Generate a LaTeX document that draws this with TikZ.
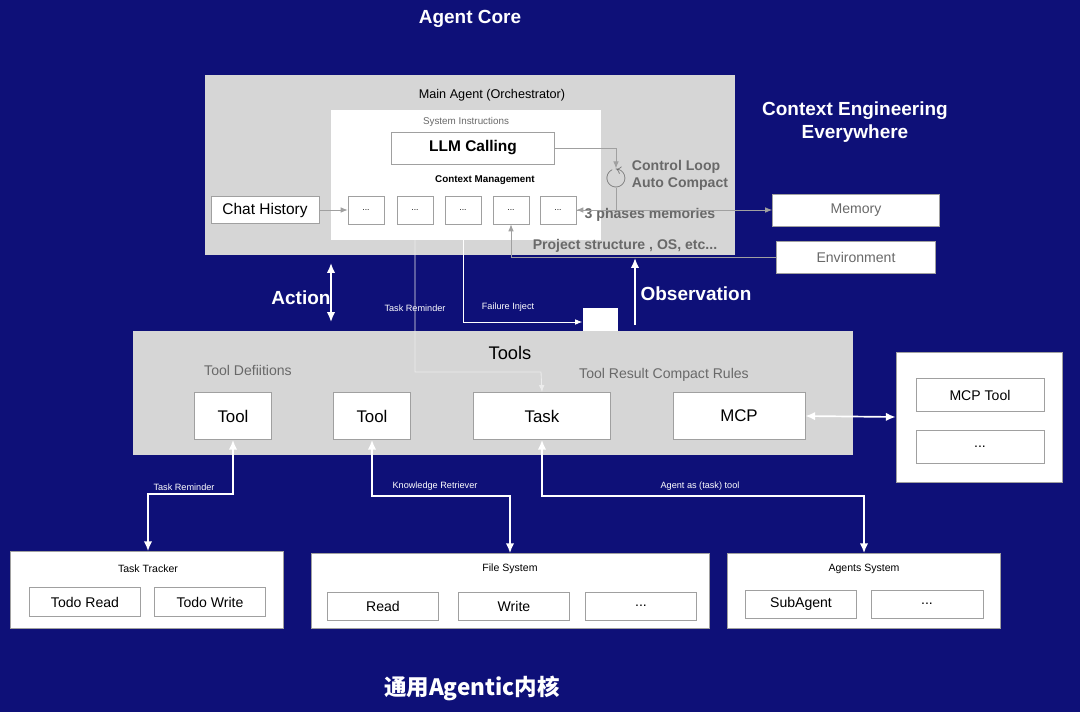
\documentclass[tikz,border=0pt]{standalone}
\usepackage{amssymb}
\usepackage{fontspec}
\setmainfont{Liberation Sans}
\newfontfamily\cjk{Noto Sans CJK SC}
\usetikzlibrary{arrows.meta, positioning}
\definecolor{bgblue}{RGB}{14,16,120}
\definecolor{panelgray}{RGB}{214,214,214}
\definecolor{textgray}{RGB}{105,105,105}
\definecolor{edgegray}{RGB}{160,160,160}
\def\pxu{0.025cm}
\tikzset{
  panel/.style={fill=panelgray, draw=none, inner sep=0pt},
  card/.style={fill=white, draw=edgegray, line width=0.5pt, inner sep=0pt},
  box/.style={card, font=\fontsize{11}{12}\selectfont},
  title/.style={text=white, font=\bfseries\fontsize{13.5}{16}\selectfont, align=center},
  hint/.style={text=textgray, font=\bfseries\fontsize{10}{12}\selectfont},
  wlabel/.style={text=white, font=\fontsize{6.5}{8}\selectfont},
  wire/.style={draw=edgegray, line width=0.6pt, -{Latex[length=5pt,width=4pt]}},
  link/.style={draw=white, line width=1.2pt, {Latex[length=7pt,width=6pt]}-{Latex[length=7pt,width=6pt]}},
}
\begin{document}
\begin{tikzpicture}[x=\pxu, y=-\pxu]
\fill[bgblue] (0,0) rectangle (1080,712);
\useasboundingbox (0,0) rectangle (1080,712);

% agent core
\node[title] (core) at (470,19) {Agent Core};
\node[title] (ctx) at (855,122) {Context Engineering\\Everywhere};
\node[panel, minimum width=530*\pxu, minimum height=180*\pxu] (main) at (470,165) {};
\node[font=\fontsize{9}{10}\selectfont] (mainlbl) at (492,95) {Main Agent (Orchestrator)};
\node[card, draw=none, minimum width=270*\pxu, minimum height=130*\pxu] (inner) at (466,175) {};
\node[text=textgray, font=\fontsize{7}{8}\selectfont] (sys) at (466,122) {System Instructions};
\node[box, minimum width=163*\pxu, minimum height=32*\pxu, font=\bfseries\fontsize{11}{12}\selectfont] (llm) at (473,148) {LLM Calling};
\node[font=\bfseries\fontsize{7}{8}\selectfont] (cm) at (485,180) {Context Management};
\foreach \x [count=\i] in {366,415,463,511,558}
  \node[card, minimum width=36*\pxu, minimum height=28*\pxu, font=\fontsize{6}{7}\selectfont] (m\i) at (\x,210) {...};
\node[box, minimum width=108*\pxu, minimum height=27*\pxu] (chat) at (265,210) {Chat History};
\node[hint, align=left] (loop) at (680,175) {Control Loop\\Auto Compact};
\node[text=textgray, font=\bfseries\fontsize{20}{20}\selectfont, inner sep=0pt] (loopicon) at (616,178) {$\circlearrowleft$};
\node[hint] (phases) at (650,215) {3 phases memories};
\node[hint] (proj) at (625,246) {Project structure , OS, etc...};
\node[card, minimum width=167*\pxu, minimum height=32*\pxu, text=textgray, font=\fontsize{10}{12}\selectfont] (mem) at (856,210) {Memory};
\node[card, minimum width=159*\pxu, minimum height=32*\pxu, text=textgray, font=\fontsize{10}{12}\selectfont] (env) at (856,257) {Environment};
\node[fill=white, minimum width=35*\pxu, minimum height=28*\pxu, inner sep=0pt] (sink) at (600,322) {};

\draw[wire] (chat) -- (m1);
\draw[wire] (llm.east) -| (loopicon.north);
\draw[wire] (loopicon.south) |- (m5.east);
\draw[wire] (m5.east) -- (mem.west);
\draw[wire] (env.west) -| (m4.south);
\draw[wire, draw=white] (463,240) |- (sink.west);
\node[wlabel] (failure) at (508,307) {Failure Inject};
\node[wlabel] (remind) at (415,308) {Task Reminder};

% action / observation
\draw[link] (331,263) -- (331,322);
\node[title] (action) at (301,298) {Action};
\draw[draw=white, line width=1.2pt, -{Latex[length=7pt,width=6pt]}] (635,325) -- (635,258);
\node[title] (obs) at (696,294) {Observation};

% tools
\node[panel, minimum width=720*\pxu, minimum height=124*\pxu] (tools) at (493,393) {};
\node[font=\fontsize{13}{14}\selectfont] (toolslbl) at (510,353) {Tools};
\node[hint, font=\fontsize{10}{12}\selectfont] (defs) at (248,370) {Tool Defiitions};
\node[hint, font=\fontsize{10}{12}\selectfont] (rules) at (664,375) {Tool Result Compact Rules};
\node[box, minimum width=77*\pxu, minimum height=47*\pxu, font=\fontsize{12}{14}\selectfont] (tool1) at (233,416) {Tool};
\node[box, minimum width=77*\pxu, minimum height=47*\pxu, font=\fontsize{12}{14}\selectfont] (tool2) at (372,416) {Tool};
\node[box, minimum width=137*\pxu, minimum height=47*\pxu, font=\fontsize{12}{14}\selectfont] (task) at (542,416) {Task};
\node[box, minimum width=132*\pxu, minimum height=47*\pxu, font=\fontsize{12}{14}\selectfont] (mcp) at (739,416) {MCP};
\draw[wire, draw=white!85!gray] (415,240) |- (541,372) -- (task.north);

\node[card, minimum width=166*\pxu, minimum height=130*\pxu] (mcpset) at (979,417) {};
\node[box, minimum width=128*\pxu, minimum height=33*\pxu, font=\fontsize{10}{12}\selectfont] (mcptool) at (980,395) {MCP Tool};
\node[box, minimum width=128*\pxu, minimum height=33*\pxu, font=\fontsize{10}{12}\selectfont] (mcpmore) at (980,447) {...};
\draw[link] (mcp.east) -- (mcpset.west);

% subsystems
\node[card, minimum width=273*\pxu, minimum height=77*\pxu] (tracker) at (147,590) {};
\node[font=\fontsize{7.5}{9}\selectfont] (trackerlbl) at (148,569) {Task Tracker};
\node[box, minimum width=111*\pxu, minimum height=29*\pxu, font=\fontsize{10}{12}\selectfont] (todor) at (85,602) {Todo Read};
\node[box, minimum width=111*\pxu, minimum height=29*\pxu, font=\fontsize{10}{12}\selectfont] (todow) at (210,602) {Todo Write};

\node[card, minimum width=398*\pxu, minimum height=75*\pxu] (fs) at (510,591) {};
\node[font=\fontsize{7.5}{9}\selectfont] (fslbl) at (510,569) {File System};
\node[box, minimum width=111*\pxu, minimum height=28*\pxu, font=\fontsize{10}{12}\selectfont] (read) at (383,606) {Read};
\node[box, minimum width=111*\pxu, minimum height=28*\pxu, font=\fontsize{10}{12}\selectfont] (write) at (514,606) {Write};
\node[box, minimum width=111*\pxu, minimum height=28*\pxu, font=\fontsize{10}{12}\selectfont] (fsmore) at (641,606) {...};

\node[card, minimum width=273*\pxu, minimum height=75*\pxu] (agents) at (864,591) {};
\node[font=\fontsize{7.5}{9}\selectfont] (agentslbl) at (864,569) {Agents System};
\node[box, minimum width=111*\pxu, minimum height=28*\pxu, font=\fontsize{10}{12}\selectfont] (sub) at (801,604) {SubAgent};
\node[box, minimum width=112*\pxu, minimum height=28*\pxu, font=\fontsize{10}{12}\selectfont] (agmore) at (927,604) {...};

\draw[link] (tool1.south) |- (148,494) -- (tracker.north -| 148,0);
\draw[link] (tool2.south) |- (510,496) -- (fs.north);
\draw[link] (task.south) |- (864,496) -- (agents.north);
\node[wlabel] (l1) at (184,487) {Task Reminder};
\node[wlabel] (l2) at (435,486) {Knowledge Retriever};
\node[wlabel] (l3) at (700,486) {Agent as (task) tool};

\node[text=white, font=\cjk\bfseries\fontsize{16}{18}\selectfont] (bottom) at (472,688) {通用Agentic内核};
\end{tikzpicture}
\end{document}
